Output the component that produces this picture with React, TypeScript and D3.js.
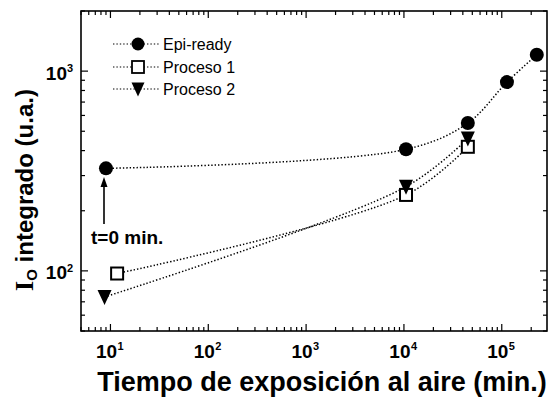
import { useEffect } from 'react';
import * as d3 from 'd3';

// tiempo (min) / intensidad integrada (u.a.)
const epiTime = [9, 10500, 45000, 113000, 228000];
const epiValue = [326, 406, 550, 881, 1208];
const p1Time = [11.7, 10500, 45000];
const p1Value = [97, 240, 418];
const p2Time = [8.7, 10500, 45000];
const p2Value = [74, 264, 460];

const xDecades = [1, 2, 3, 4, 5];
const yDecades = [2, 3];
const legendLabels = ['Epi-ready', 'Proceso 1', 'Proceso 2'];

const W = 549,
  H = 397;
const margin = { top: 11, right: 2, bottom: 66, left: 81 };

function App() {
  useEffect(() => {
    document.body.style.margin = '0';
  }, []);

  const x = d3.scaleLog().domain([5, 2.9e5]).range([margin.left, W - margin.right]);
  const y = d3.scaleLog().domain([50, 2000]).range([H - margin.bottom, margin.top]);

  const x0 = margin.left,
    x1 = W - margin.right,
    y0 = H - margin.bottom,
    y1 = margin.top;

  const isMajor = (v) => Math.abs(Math.log10(v) - Math.round(Math.log10(v))) < 1e-6;

  const line = d3
    .line()
    .x((d) => x(d[0]))
    .y((d) => y(d[1]))
    .curve(d3.curveCatmullRom.alpha(0.5));

  const epi = epiTime.map((t, i) => [t, epiValue[i]]);
  const p1 = p1Time.map((t, i) => [t, p1Value[i]]);
  const p2 = p2Time.map((t, i) => [t, p2Value[i]]);

  const dots = { fill: 'none', stroke: '#000', strokeWidth: 1.5, strokeDasharray: '1.4 2' };

  const tri = (cx, cy, s) =>
    `M${cx - s / 2},${cy - s / 2}L${cx + s / 2},${cy - s / 2}L${cx},${cy + s / 2 + 1}Z`;

  const xTicks = x.ticks();
  const yTicks = y.ticks();

  const legendY = [44, 67, 89];

  return (
    <svg width={W} height={H} style={{ display: 'block', fontFamily: 'Arial, "Liberation Sans", sans-serif' }}>
      <rect x={x0} y={y1} width={x1 - x0} height={y0 - y1} fill="none" stroke="#000" strokeWidth={1.6} />

      {xTicks.map((t, i) => {
        const len = isMajor(t) ? 7 : 4;
        return (
          <g key={'xt' + i} stroke="#000" strokeWidth={1.2}>
            <line x1={x(t)} x2={x(t)} y1={y0} y2={y0 - len} />
            <line x1={x(t)} x2={x(t)} y1={y1} y2={y1 + len} />
          </g>
        );
      })}
      {yTicks.map((t, i) => {
        const len = isMajor(t) ? 7 : 4;
        return (
          <g key={'yt' + i} stroke="#000" strokeWidth={1.2}>
            <line x1={x0} x2={x0 + len} y1={y(t)} y2={y(t)} />
            <line x1={x1} x2={x1 - len} y1={y(t)} y2={y(t)} />
          </g>
        );
      })}

      {xDecades.map((d) => (
        <g key={'xl' + d} fontWeight="bold">
          <text x={x(10 ** d) - 4} y={358} fontSize={19} textAnchor="middle">
            10
          </text>
          <text x={x(10 ** d) + 7} y={350} fontSize={11}>
            {d}
          </text>
        </g>
      ))}
      {yDecades.map((d) => (
        <g key={'yl' + d} fontWeight="bold">
          <text x={67} y={y(10 ** d) + 8.5} fontSize={19} textAnchor="end">
            10
          </text>
          <text x={67} y={y(10 ** d) + 1} fontSize={11}>
            {d}
          </text>
        </g>
      ))}

      <text x={322} y={391} fontSize={27} fontWeight="bold" textAnchor="middle">
        Tiempo de exposición al aire (min.)
      </text>
      <text transform="translate(33,190) rotate(-90)" fontWeight="bold" textAnchor="middle" fontSize={24}>
        <tspan fontFamily='"Liberation Serif", "Times New Roman", serif' fontSize={26}>
          I
        </tspan>
        <tspan fontSize={15} dy={4}>
          O
        </tspan>
        <tspan dy={-4}> integrado (u.a.)</tspan>
      </text>

      <path d={line(epi)} {...dots} />
      <path d={line(p1)} {...dots} />
      <path d={line(p2)} {...dots} />

      {epi.map((d, i) => (
        <circle key={'c' + i} cx={x(d[0])} cy={y(d[1])} r={7} fill="#000" />
      ))}
      {p1.map((d, i) => (
        <rect key={'s' + i} x={x(d[0]) - 6} y={y(d[1]) - 6} width={12} height={12} fill="#fff" stroke="#000" strokeWidth={2} />
      ))}
      {p2.map((d, i) => (
        <path key={'t' + i} d={tri(x(d[0]), y(d[1]), 14)} fill="#000" />
      ))}

      {legendLabels.map((lab, i) => (
        <g key={'lg' + i}>
          <line x1={113} x2={160} y1={legendY[i]} y2={legendY[i]} {...dots} strokeWidth={1.2} />
          {i === 0 && <circle cx={138} cy={legendY[i]} r={6.5} fill="#000" />}
          {i === 1 && <rect x={132} y={legendY[i] - 6} width={12} height={12} fill="#fff" stroke="#000" strokeWidth={1.8} />}
          {i === 2 && <path d={tri(138, legendY[i], 13)} fill="#000" />}
          <text x={163} y={legendY[i] + 6} fontSize={16}>
            {lab}
          </text>
        </g>
      ))}

      <line x1={104} x2={104} y1={224} y2={185} stroke="#000" strokeWidth={1.6} />
      <path d="M100.5,187L104,177L107.5,187Z" fill="#000" />
      <text x={91} y={244} fontSize={19} fontWeight="bold">
        t=0 min.
      </text>
    </svg>
  );
}

export default App;
